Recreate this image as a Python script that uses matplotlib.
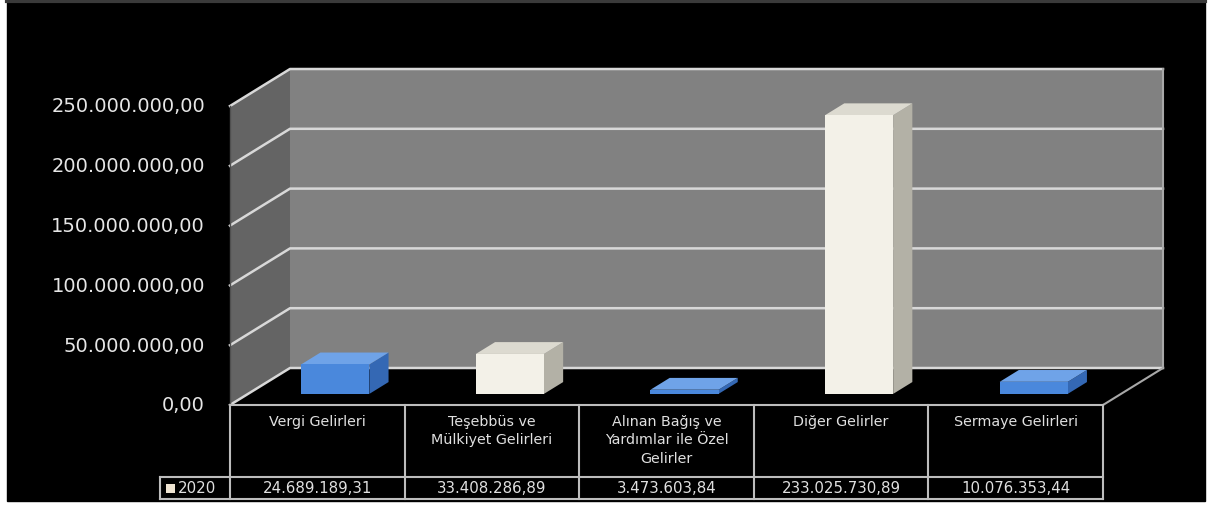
import matplotlib
matplotlib.use("Agg")
import matplotlib.pyplot as plt
from matplotlib.patches import Polygon, Rectangle

plt.rcParams["font.family"] = ["DejaVu Sans"]

# --- data -------------------------------------------------------------
categories = ["Vergi Gelirleri", "Teşebbüs ve\nMülkiyet Gelirleri",
              "Alınan Bağış ve\nYardımlar ile Özel\nGelirler",
              "Diğer Gelirler", "Sermaye Gelirleri"]
values_2020 = [24689189.31, 33408286.89, 3473603.84, 233025730.89, 10076353.44]
value_labels = ["24.689.189,31", "33.408.286,89", "3.473.603,84",
                "233.025.730,89", "10.076.353,44"]
series_name = "2020"
y_ticks = [0, 50e6, 100e6, 150e6, 200e6, 250e6]
y_tick_labels = ["0,00", "50.000.000,00", "100.000.000,00", "150.000.000,00",
                 "200.000.000,00", "250.000.000,00"]

BLUE = ("#4a88dc", "#6fa3e8", "#3468b4")      # front, top, side
CREAM = ("#f3f1e8", "#dcdad0", "#b3b1a6")
bar_styles = [BLUE, CREAM, BLUE, CREAM, BLUE]

W, H = 1210, 510
fig = plt.figure(figsize=(W / 100, H / 100), dpi=100, facecolor="white")

# background panel (pixel coords)
bg = fig.add_axes([0, 0, 1, 1])
bg.set_xlim(0, W); bg.set_ylim(H, 0); bg.set_axis_off()
bg.add_patch(Rectangle((7, 0), 1198, 502, color="black", zorder=0))
bg.plot([7, 1205], [2, 2], color="#3a3a3a", lw=3, zorder=1)

# plot axes: front plane of the 3D box
X0, X1, Y0, Y1 = 230, 1103, 406, 107
ax = fig.add_axes([X0 / W, 1 - Y0 / H, (X1 - X0) / W, (Y0 - Y1) / H])
ax.set_xlim(-0.5, 4.5); ax.set_ylim(0, 250e6); ax.set_axis_off()
ax.patch.set_alpha(0)

VPX = 250e6 / (Y0 - Y1)      # value units per pixel
CPX = 5 / (X1 - X0)          # category units per pixel
DX, DY = 60 * CPX, 37 * VPX  # full-depth oblique offset


def pt(x, y, d):
    return (x + d * DX, y + d * DY)


def poly(pts, color, z):
    ax.add_patch(Polygon(pts, closed=True, facecolor=color, edgecolor="none",
                         lw=0, zorder=z, clip_on=False))


top = y_ticks[-1]
# floor, side wall, back wall
poly([pt(-0.5, 0, 0), pt(4.5, 0, 0), pt(4.5, 0, 1), pt(-0.5, 0, 1)], "black", 1)
poly([pt(-0.5, 0, 0), pt(-0.5, 0, 1), pt(-0.5, top, 1), pt(-0.5, top, 0)], "#646464", 1)
poly([pt(-0.5, 0, 1), pt(4.5, 0, 1), pt(4.5, top, 1), pt(-0.5, top, 1)], "#818181", 1)

for t in y_ticks:
    xs, ys = zip(pt(-0.5, t, 0), pt(-0.5, t, 1), pt(4.5, t, 1))
    ax.plot(xs, ys, color="#d8d8d8", lw=1.8, zorder=2, clip_on=False)
xs, ys = zip(pt(4.5, 0, 0), pt(4.5, 0, 1), pt(4.5, top, 1))
ax.plot(xs, ys, color="#a8a8a8", lw=1.5, zorder=2, clip_on=False)
ax.plot([-0.5, -0.5], [0, top], color="#505050", lw=1, zorder=2, clip_on=False)

# tick labels
for t, lab in zip(y_ticks, y_tick_labels):
    ax.text(-0.5 - 25 * CPX, t, lab, ha="right", va="center", fontsize=14,
            color="#e6e6e6")

# 3D bars
bw, d0, d1 = 0.39, 0.30, 0.62
for i, (v, (cf, ct, cs)) in enumerate(zip(values_2020, bar_styles)):
    xl, xr = i - bw / 2, i + bw / 2
    z = 5 + i
    poly([pt(xr, 0, d0), pt(xr, 0, d1), pt(xr, v, d1), pt(xr, v, d0)], cs, z)
    poly([pt(xl, v, d0), pt(xr, v, d0), pt(xr, v, d1), pt(xl, v, d1)], ct, z)
    poly([pt(xl, 0, d0), pt(xr, 0, d0), pt(xr, v, d0), pt(xl, v, d0)], cf, z)

# data table under the chart
r1 = -72 * VPX
r2 = -94 * VPX
xleg = -0.5 - 70 * CPX
lc = "#bdbdbd"
ax.plot([-0.5, 4.5], [0, 0], color=lc, lw=1.5, zorder=3, clip_on=False)
ax.plot([xleg, 4.5], [r1, r1], color=lc, lw=1.5, zorder=3, clip_on=False)
ax.plot([xleg, 4.5], [r2, r2], color=lc, lw=1.5, zorder=3, clip_on=False)
ax.plot([xleg, xleg], [r1, r2], color=lc, lw=1.5, zorder=3, clip_on=False)
for k in range(6):
    ax.plot([k - 0.5, k - 0.5], [0, r2], color=lc, lw=1.5, zorder=3, clip_on=False)

for i, (cat, lab) in enumerate(zip(categories, value_labels)):
    ax.text(i, -9 * VPX, cat, ha="center", va="top", fontsize=10.3,
            color="#e0e0e0", linespacing=1.4)
    ax.text(i, (r1 + r2) / 2, lab, ha="center", va="center", fontsize=10.8,
            color="#e0e0e0")

ax.add_patch(Rectangle((xleg + 6 * CPX, (r1 + r2) / 2 - 4.5 * VPX), 9 * CPX, 9 * VPX,
                       facecolor="#efe4d2", edgecolor="none", zorder=4, clip_on=False))
ax.text(xleg + 18 * CPX, (r1 + r2) / 2, series_name, ha="left", va="center",
        fontsize=10.8, color="#e0e0e0")

fig.savefig("out.png", dpi=100, facecolor=fig.get_facecolor())
